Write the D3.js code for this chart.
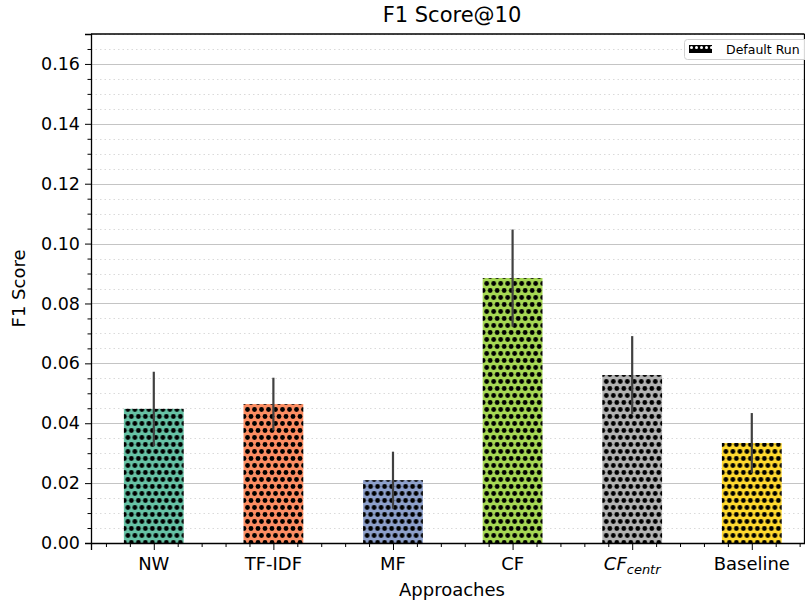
<!DOCTYPE html>
<html>
<head>
<meta charset="utf-8">
<script src="https://cdn.jsdelivr.net/npm/d3@7"></script>
<style>
  body { margin: 0; background: #fff; }
  text { font-family: "DejaVu Sans", sans-serif; fill: #000; }
</style>
</head>
<body>
<svg id="chart" width="805" height="601"></svg>
<script>
// chart data
var approaches = ["NW", "TF-IDF", "MF", "CF", "CFcentr", "Baseline"];
var scores = [0.0448, 0.0464, 0.0210, 0.0885, 0.0561, 0.0334];
var errors = [0.0124, 0.0088, 0.0095, 0.0162, 0.0130, 0.0100];
var colors = ["#66c2a5", "#fc8d62", "#8da0cb", "#a6d854", "#b3b3b3", "#ffd92f"];
var yTicks = [0.00, 0.02, 0.04, 0.06, 0.08, 0.10, 0.12, 0.14, 0.16];

var plotLeft = 91, plotTop = 34, plotBottom = 543, plotRight = 804.5;

var svg = d3.select("#chart");

// the plot area runs slightly beyond the image on the right
var x = d3.scaleLinear().domain([-0.525, 5.525]).range([plotLeft, plotLeft + 6.05 * 119.6]);
var y = d3.scaleLinear().domain([0, 0.17]).range([plotBottom, plotTop]);

// hatch pattern 'o'
var defs = svg.append("defs");
colors.forEach(function (c, i) {
  var p = defs.append("pattern").attr("id", "hatch" + i)
    .attr("patternUnits", "userSpaceOnUse")
    .attr("width", 7).attr("height", 14)
    .attr("x", x(i) - 0.25 * (x(1) - x(0)) + 0.5);
  p.append("rect").attr("width", 7).attr("height", 14).attr("fill", c);
  p.append("circle").attr("cx", 3.5).attr("cy", 3.5).attr("r", 2.4).attr("fill", "#000");
  p.append("circle").attr("cx", 0).attr("cy", 10.5).attr("r", 2.4).attr("fill", "#000");
  p.append("circle").attr("cx", 7).attr("cy", 10.5).attr("r", 2.4).attr("fill", "#000");
});
var lp = defs.append("pattern").attr("id", "legHatch")
  .attr("patternUnits", "userSpaceOnUse").attr("width", 5).attr("height", 8)
  .attr("x", 689).attr("y", 45);
lp.append("rect").attr("width", 5).attr("height", 8).attr("fill", "#000");
lp.append("circle").attr("cx", 2.5).attr("cy", 2.5).attr("r", 1.5).attr("fill", "#fff");

// grid lines
var minorY = d3.range(0, 0.1701, 0.005).filter(function (v) { return Math.abs(Math.round(v / 0.02) * 0.02 - v) > 1e-6; });
svg.append("g").selectAll("line").data(minorY).enter().append("line")
  .attr("x1", plotLeft).attr("x2", plotRight)
  .attr("y1", function (d) { return Math.round(y(d)) + 0.5; })
  .attr("y2", function (d) { return Math.round(y(d)) + 0.5; })
  .attr("stroke", "#dadada").attr("stroke-width", 1).attr("stroke-dasharray", "1.5,3");
svg.append("g").selectAll("line").data(yTicks).enter().append("line")
  .attr("x1", plotLeft).attr("x2", plotRight)
  .attr("y1", function (d) { return Math.round(y(d)) + 0.5; })
  .attr("y2", function (d) { return Math.round(y(d)) + 0.5; })
  .attr("stroke", "#c4c4c4").attr("stroke-width", 1.2);

// bars
var barW = (x(1) - x(0)) * 0.5;
svg.append("g").selectAll("rect").data(scores).enter().append("rect")
  .attr("x", function (d, i) { return x(i) - barW / 2; })
  .attr("y", function (d) { return y(d); })
  .attr("width", barW)
  .attr("height", function (d) { return y(0) - y(d); })
  .attr("fill", function (d, i) { return "url(#hatch" + i + ")"; });

// error bars
svg.append("g").selectAll("line").data(scores).enter().append("line")
  .attr("x1", function (d, i) { return x(i); })
  .attr("x2", function (d, i) { return x(i); })
  .attr("y1", function (d, i) { return y(d + errors[i]); })
  .attr("y2", function (d, i) { return y(d - errors[i]); })
  .attr("stroke", "#404040").attr("stroke-width", 2.2);

// axes
var yAxis = d3.axisLeft(y).tickValues(yTicks).tickFormat(d3.format(".2f")).tickSizeOuter(0).tickSize(6).tickPadding(5);
var gy = svg.append("g").attr("transform", "translate(" + plotLeft + ",0)").call(yAxis);
gy.selectAll("text").style("font-size", "17.5px");
var yMinorAxis = d3.axisLeft(y).tickValues(minorY).tickFormat("").tickSizeOuter(0).tickSize(3.5);
svg.append("g").attr("transform", "translate(" + plotLeft + ",0)").call(yMinorAxis).select(".domain").remove();

var xAxis = d3.axisBottom(x).tickValues(d3.range(approaches.length)).tickFormat("").tickSizeOuter(0).tickSize(7);
svg.append("g").attr("transform", "translate(0," + y(0) + ")").call(xAxis);
var minorX = d3.range(-0.4, 5.5, 0.2).filter(function (v) { return Math.abs(Math.round(v) - v) > 1e-6; });
var xMinorAxis = d3.axisBottom(x).tickValues(minorX).tickFormat("").tickSizeOuter(0).tickSize(4);
svg.append("g").attr("transform", "translate(0," + y(0) + ")").call(xMinorAxis).select(".domain").remove();
svg.selectAll(".domain").attr("stroke-width", 1.3);

// x labels
var xl = svg.append("g").selectAll("text").data(approaches).enter().append("text")
  .attr("x", function (d, i) { return x(i); })
  .attr("y", 570)
  .attr("text-anchor", "middle")
  .style("font-size", "18px");
xl.each(function (d) {
  var t = d3.select(this);
  if (d === "CFcentr") {
    t.append("tspan").style("font-style", "italic").text("CF");
    t.append("tspan").style("font-style", "italic").style("font-size", "13px").attr("dy", 4).text("centr");
  } else {
    t.text(d);
  }
});

// frame top/right
svg.append("line").attr("x1", plotLeft).attr("x2", plotRight)
  .attr("y1", plotTop).attr("y2", plotTop).attr("stroke", "#000").attr("stroke-width", 1.3);
svg.append("line").attr("x1", plotRight).attr("x2", plotRight)
  .attr("y1", plotTop).attr("y2", plotBottom).attr("stroke", "#000").attr("stroke-width", 1.3);

// titles
svg.append("text").attr("x", 452).attr("y", 22)
  .attr("text-anchor", "middle").style("font-size", "21px").text("F1 Score@10");
svg.append("text").attr("x", 452).attr("y", 596)
  .attr("text-anchor", "middle").style("font-size", "18px").text("Approaches");
svg.append("text").attr("transform", "translate(25," + (plotTop + plotBottom) / 2 + ") rotate(-90)")
  .attr("text-anchor", "middle").style("font-size", "18px").text("F1 Score");

// legend
var lg = svg.append("g");
lg.append("rect").attr("x", 684.5).attr("y", 39.5).attr("width", 125).attr("height", 20)
  .attr("rx", 3).attr("fill", "#fff").attr("fill-opacity", 0.85).attr("stroke", "#d0d0d0");
lg.append("rect").attr("x", 689).attr("y", 45).attr("width", 23).attr("height", 8)
  .attr("fill", "url(#legHatch)");
lg.append("text").attr("x", 726).attr("y", 54).style("font-size", "12.5px").text("Default Run");
</script>
</body>
</html>
